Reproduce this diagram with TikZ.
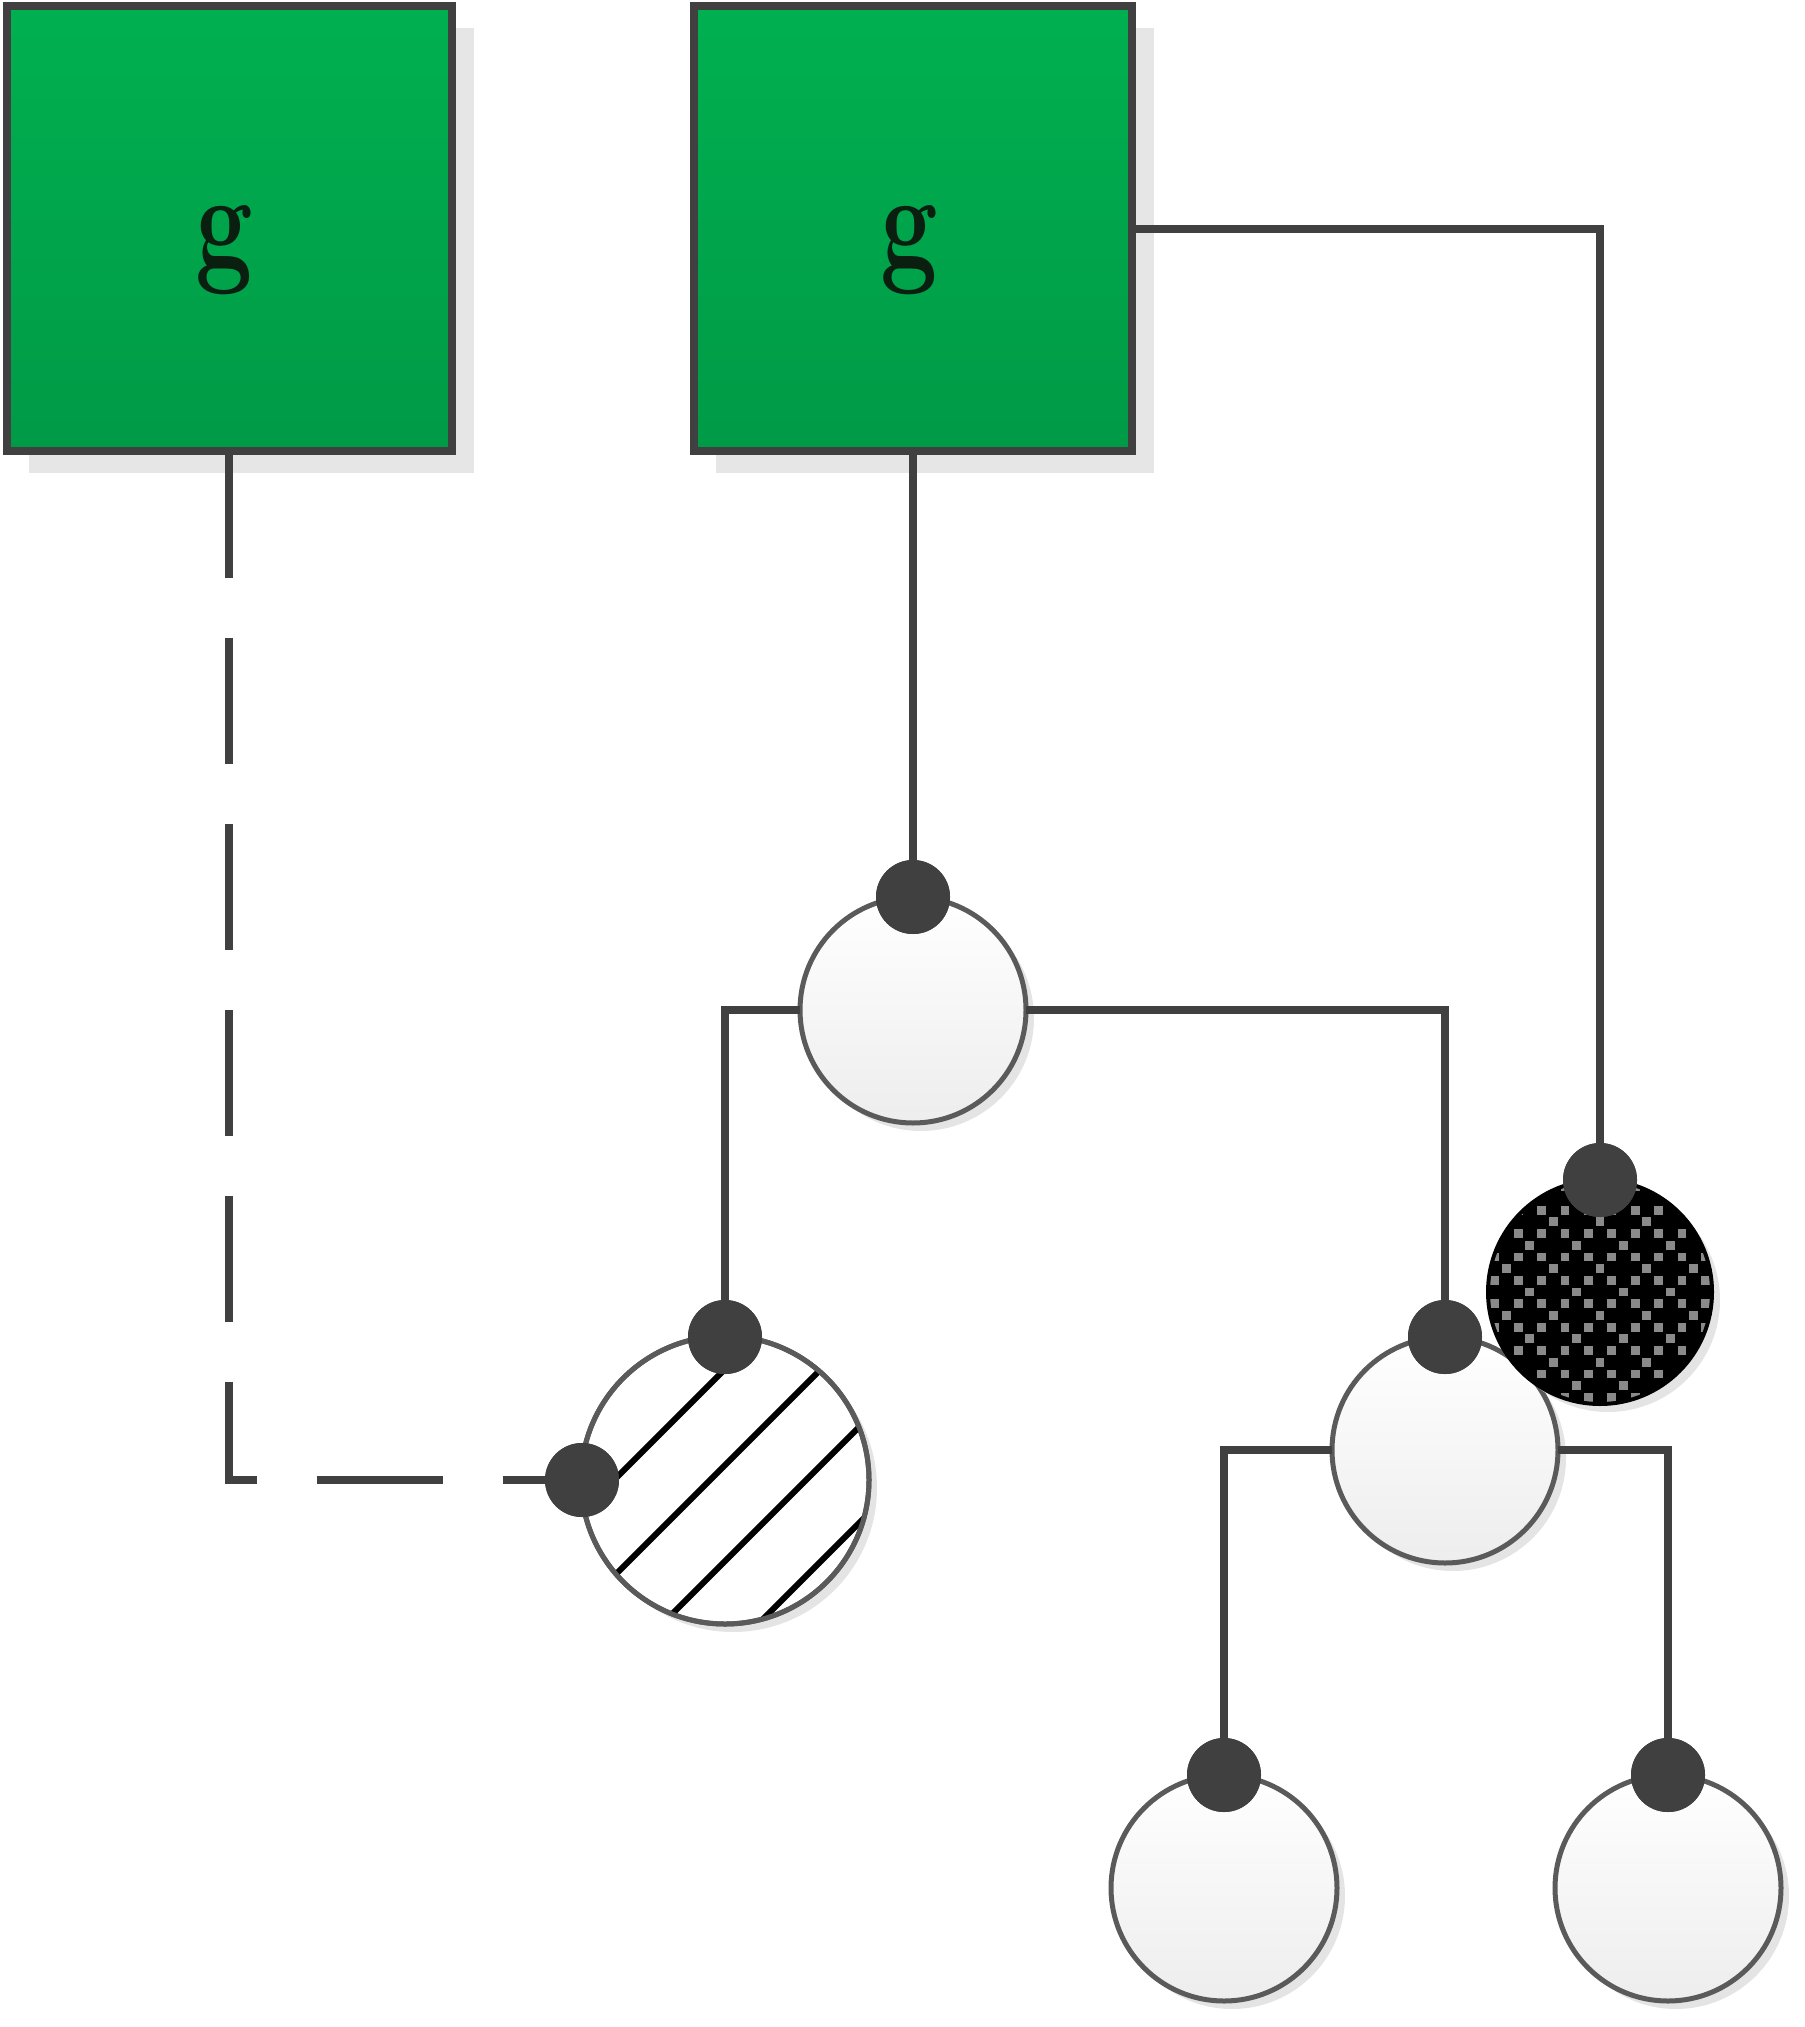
\documentclass[tikz,border=0pt]{standalone}
\usetikzlibrary{shadows}
\definecolor{edge}{HTML}{404040}
\definecolor{ring}{HTML}{5A5A5A}
\definecolor{gtop}{HTML}{00B050}
\definecolor{gbot}{HTML}{009A46}
\definecolor{boxshade}{HTML}{E6E6E6}
\definecolor{cshade}{HTML}{E4E4E4}
\definecolor{dotgray}{HTML}{8A8A8A}
\definecolor{gtextc}{HTML}{0A1F10}
\begin{document}
\begin{tikzpicture}[x=0.5pt,y=-0.5pt,
  gbox/.style={rectangle, draw=edge, line width=4pt, top color=gtop, bottom color=gbot,
    inner sep=0pt, outer sep=0pt,
    general shadow={fill=boxshade, shadow xshift=11pt, shadow yshift=-11pt}},
  unit/.style={circle, draw=ring, line width=2.5pt, top color=white, bottom color=white!93!black,
    minimum size=113pt, inner sep=0pt, outer sep=0pt,
    general shadow={fill=cshade, shadow xshift=4pt, shadow yshift=-4pt}},
  hunit/.style={circle, draw=ring, line width=2.5pt, fill=white,
    minimum size=144pt, inner sep=0pt, outer sep=0pt,
    general shadow={fill=cshade, shadow xshift=4pt, shadow yshift=-4pt}},
  bunit/.style={circle, draw=black, line width=2pt, fill=black,
    minimum size=112pt, inner sep=0pt, outer sep=0pt,
    general shadow={fill=cshade, shadow xshift=4pt, shadow yshift=-4pt}},
  knob/.style={circle, fill=edge, minimum size=37pt, inner sep=0pt, outer sep=0pt},
  conn/.style={draw=edge, line width=4pt},
  dconn/.style={draw=edge, line width=4pt, dash pattern=on 63pt off 30pt},
  gtext/.style={text=gtextc, font=\fontsize{68}{80}\selectfont\bfseries, inner sep=0pt, anchor=base}
]
\useasboundingbox (0,0) rectangle (1804,2027);

% boxes
\node[gbox, minimum width=222.5pt, minimum height=222.5pt] (boxL) at (229,229) {};
\node[gbox, minimum width=219pt, minimum height=222.5pt] (boxR) at (913,229) {};
\node[gtext] (tL) at (224,268) {\scalebox{0.75}[1]{g}};
\node[gtext] (tR) at (909,268) {\scalebox{0.75}[1]{g}};

% circles
\node[unit] (c1) at (913,1010) {};
\node[hunit] (h) at (725,1480) {};
\node[unit] (c2) at (1445,1450) {};
\node[bunit] (b) at (1600,1292) {};
\node[unit] (c3) at (1224,1888) {};
\node[unit] (c4) at (1668,1888) {};

% hatch
\begin{scope}
  \clip (h.center) circle[radius=142];
  \foreach \c in {-111,-15,81,177}{
    \draw[black, line width=3pt] ([shift={(\c-250,250)}]h.center) -- ([shift={(\c+250,-250)}]h.center);
  }
\end{scope}
\draw[ring, line width=2.5pt] (h.center) circle[radius=144];

% cross-and-dot pattern on black circle
\begin{scope}
  \clip (b.center) circle[radius=110];
  \foreach \i in {-10,...,10}{
    \foreach \j in {-10,...,10}{
      \pgfmathtruncatemacro{\gj}{mod(\j+100,2)}
      \pgfmathtruncatemacro{\gi}{mod(\i+100,2)}
      \pgfmathtruncatemacro{\gd}{mod(\i-\j+100,4)}
      \pgfmathtruncatemacro{\isgray}{\gj*\gi+(1-\gj)*(\gd==2)}
      \ifnum\isgray=1
        \fill[dotgray] ([shift={(11.7*\i-4.4,11.7*\j-4.4)}]b.center) rectangle +(8.8,8.8);
      \fi
    }
  }
\end{scope}

% knobs
\node[knob] (k1) at (913,897) {};
\node[knob] (kh) at (725,1337) {};
\node[knob] (kl) at (582,1480) {};
\node[knob] (k2) at (1445,1337) {};
\node[knob] (kb) at (1600,1180) {};
\node[knob] (k3) at (1224,1775) {};
\node[knob] (k4) at (1668,1775) {};

% connectors
\draw[conn] (boxR.south) -- (k1.center);
\draw[conn] (boxR.east) -| (kb.center);
\draw[conn] (c1.west) -| (kh.center);
\draw[conn] (c1.east) -| (k2.center);
\draw[conn] (c2.west) -| (k3.center);
\draw[conn] (c2.east) -| (k4.center);
\draw[dconn] (boxL.south) |- (kl.center);

% knobs on top of connectors
\foreach \k in {k1,kh,kl,k2,kb,k3,k4}{
  \fill[edge] (\k.center) circle[radius=37];
}
\end{tikzpicture}
\end{document}
